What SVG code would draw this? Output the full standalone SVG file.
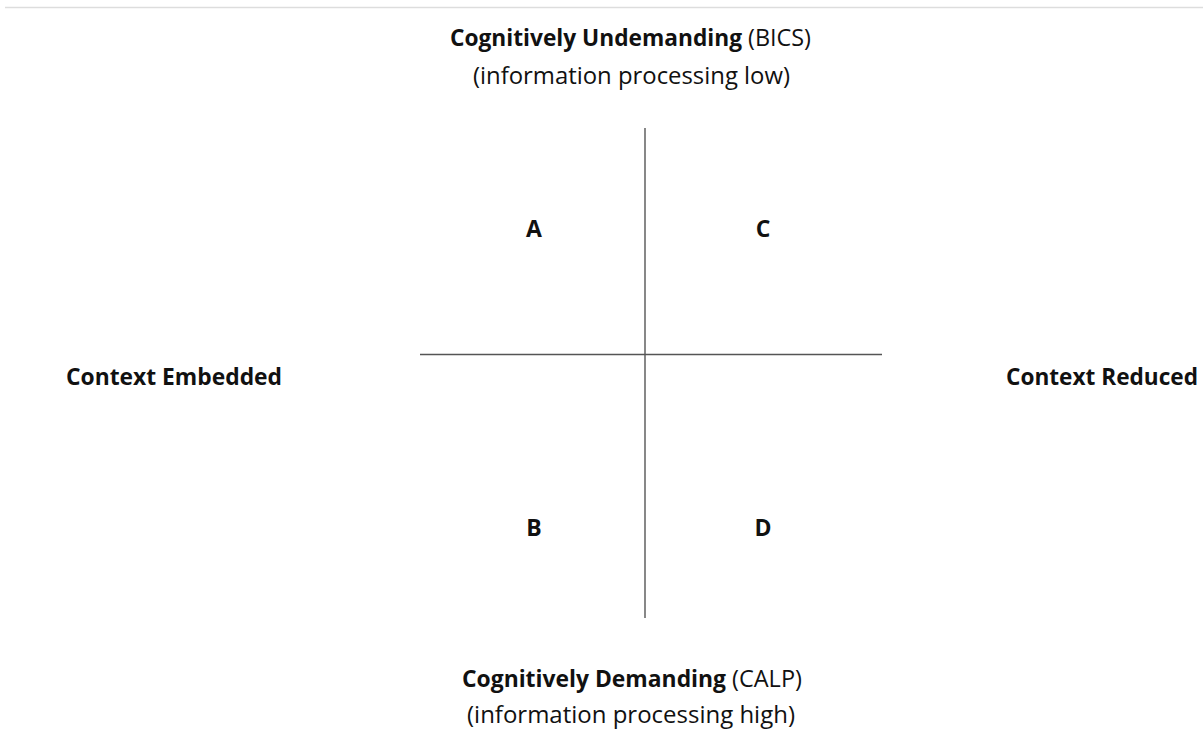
<svg xmlns="http://www.w3.org/2000/svg" width="1203" height="729" viewBox="0 0 1203 729">
  <style>
    text { font-family: "Open Sans", "Noto Sans", sans-serif; fill: #111; font-size: 23px; }
    .b { font-weight: bold; }
    .axis { stroke: #555; stroke-width: 1.4; fill: none; }
  </style>
  <rect width="1203" height="729" fill="#fff"/>
  <line x1="5" y1="7.5" x2="1203" y2="7.5" stroke="#ddd" stroke-width="1.5"/>

  <g id="connectors">
    <line class="axis" x1="645" y1="128" x2="645" y2="618"/>
    <line class="axis" x1="420" y1="354.5" x2="882" y2="354.5"/>
  </g>

  <g id="top-label">
    <text class="b" x="450" y="46" textLength="292" lengthAdjust="spacingAndGlyphs">Cognitively Undemanding</text>
    <text x="748" y="46" textLength="63" lengthAdjust="spacingAndGlyphs">(BICS)</text>
    <text x="473" y="84" textLength="317" lengthAdjust="spacingAndGlyphs">(information processing low)</text>
  </g>
  <g id="bottom-label">
    <text class="b" x="462" y="687" textLength="264" lengthAdjust="spacingAndGlyphs">Cognitively Demanding</text>
    <text x="732" y="687" textLength="70" lengthAdjust="spacingAndGlyphs">(CALP)</text>
    <text x="467" y="723" textLength="328" lengthAdjust="spacingAndGlyphs">(information processing high)</text>
  </g>
  <g id="left-label">
    <text class="b" x="66" y="385" textLength="216" lengthAdjust="spacingAndGlyphs">Context Embedded</text>
  </g>
  <g id="right-label">
    <text class="b" x="1006" y="385" textLength="192" lengthAdjust="spacingAndGlyphs">Context Reduced</text>
  </g>

  <g id="quadrant-a"><text class="b" x="534" y="237" text-anchor="middle">A</text></g>
  <g id="quadrant-c"><text class="b" x="763" y="237" text-anchor="middle">C</text></g>
  <g id="quadrant-b"><text class="b" x="534" y="536" text-anchor="middle">B</text></g>
  <g id="quadrant-d"><text class="b" x="763" y="536" text-anchor="middle">D</text></g>
</svg>
